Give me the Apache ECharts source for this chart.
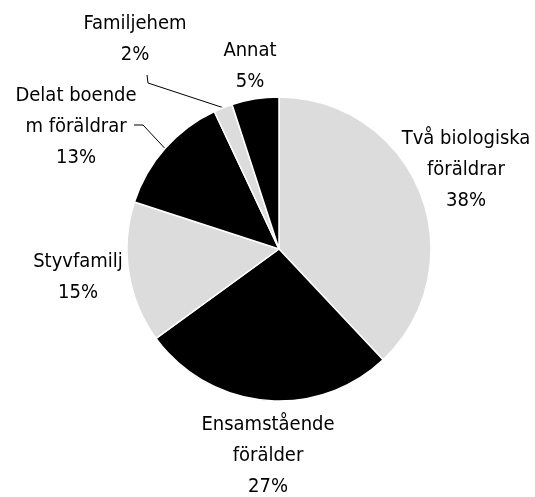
<!DOCTYPE html>
<html>
<head>
<meta charset="utf-8">
<script src="https://cdn.jsdelivr.net/npm/echarts@6/dist/echarts.min.js"></script>
<style>
  html, body { margin: 0; padding: 0; background: #fff; }
  #chart { width: 535px; height: 497px; }
</style>
</head>
<body>
<div id="chart"></div>
<script>
// slices in order, clockwise from 12 o'clock
const categories = [
  'Två biologiska\nföräldrar',
  'Ensamstående\nförälder',
  'Styvfamilj',
  'Delat boende\nm föräldrar',
  'Familjehem',
  'Annat'
]
const shares = [38, 27, 15, 13, 2, 5]
const sliceColors = ['#dcdcdc', '#000000', '#dcdcdc', '#000000', '#dcdcdc', '#000000']

// where each label block sits (center x, middle y), and its leader line bend points
const labelSpots = [
  { x: 466, y: 170 },
  { x: 268, y: 456 },
  { x: 78, y: 277 },
  { x: 76, y: 127 },
  { x: 135, y: 39 },
  { x: 250, y: 66 }
]
const leaderBends = {
  3: [[143, 125], [134, 125]],
  4: [[148, 83], [147, 75]]
}

const chart = echarts.init(document.getElementById('chart'))

chart.setOption({
  backgroundColor: '#fff',
  animation: false,
  series: [
    {
      type: 'pie',
      center: [279, 249],
      radius: 152,
      startAngle: 90,
      clockwise: true,
      itemStyle: {
        borderColor: '#fff',
        borderWidth: 1.5
      },
      label: {
        formatter: '{b}\n{c}%',
        fontFamily: "'DejaVu Sans Condensed', 'DejaVu Sans', sans-serif",
        fontSize: 20,
        lineHeight: 31,
        color: '#000',
        align: 'center',
        overflow: 'none'
      },
      labelLine: {
        show: true,
        lineStyle: { color: '#000', width: 1 }
      },
      labelLayout: (params) => {
        const spot = labelSpots[params.dataIndex]
        const bends = leaderBends[params.dataIndex]
        const out = {
          x: spot.x,
          y: spot.y,
          align: 'center',
          verticalAlign: 'middle',
          width: 200
        }
        if (bends && params.labelLinePoints) {
          out.labelLinePoints = [params.labelLinePoints[0], ...bends]
        }
        return out
      },
      data: categories.map((name, i) => ({
        name,
        value: shares[i],
        itemStyle: { color: sliceColors[i] },
        labelLine: { show: !!leaderBends[i] }
      }))
    }
  ]
})
</script>
</body>
</html>
